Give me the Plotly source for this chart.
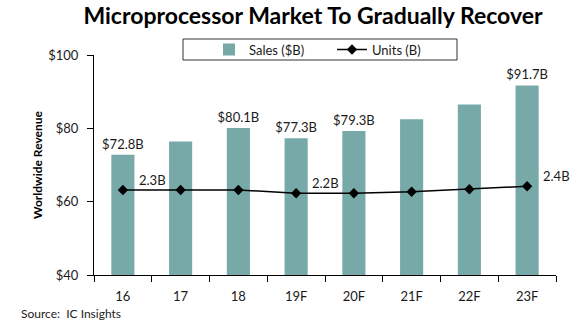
import plotly.graph_objects as go

categories = ["16", "17", "18", "19F", "20F", "21F", "22F", "23F"]
sales = [72.8, 76.4, 80.1, 77.3, 79.3, 82.5, 86.5, 91.7]
sales_labeled = [True, False, True, True, True, False, False, True]
units = [2.30, 2.30, 2.30, 2.21, 2.21, 2.25, 2.32, 2.40]
unit_labels = {0: "2.3B", 3: "2.2B", 7: "2.4B"}
y_ticks = [40, 60, 80, 100]
y_tick_text = ["$40", "$60", "$80", "$100"]

FONT = "Lato"
BAR = "#77a9a9"

L, R, T, B = 94, 19, 55, 48
W, H = 575, 323
PW, PH = W - L - R, H - T - B


def px_x(p):
    return (p - L) / PW


def px_y(p):
    return (H - B - p) / PH


bar_text = [f"${v:.1f}B" if s else "" for v, s in zip(sales, sales_labeled)]

fig = go.Figure()
fig.add_trace(go.Bar(
    x=categories, y=sales, name="Sales ($B)",
    marker=dict(color=BAR, line=dict(width=0)),
    width=0.4,
    text=bar_text, textposition="outside", cliponaxis=False,
    constraintext="none",
    textfont=dict(family=FONT, size=13, color="#1a1a1a"),
))
fig.add_trace(go.Scatter(
    x=categories, y=units, name="Units (B)", yaxis="y2",
    mode="lines+markers",
    line=dict(color="black", width=1.5),
    marker=dict(symbol="diamond", size=8, color="black"),
    cliponaxis=False,
))

annotations = []
for i, txt in unit_labels.items():
    annotations.append(dict(
        x=i, y=units[i], xref="x", yref="y2",
        text=txt, showarrow=False, xanchor="left", yanchor="middle",
        xshift=14, yshift=10,
        font=dict(family=FONT, size=13, color="#1a1a1a"),
    ))
annotations.append(dict(
    x=px_x(37), y=0.5, xref="paper", yref="paper",
    text="<b>Worldwide Revenue</b>", textangle=-90, showarrow=False,
    xanchor="center", yanchor="middle",
    font=dict(family=FONT, size=12, color="black"),
))
annotations.append(dict(
    x=px_x(19), y=px_y(313), xref="paper", yref="paper",
    text="Source:  IC Insights", showarrow=False,
    xanchor="left", yanchor="middle",
    font=dict(family=FONT, size=12, color="#222"),
))

fig.update_layout(
    width=W, height=H,
    margin=dict(l=L, r=R, t=T, b=B, autoexpand=False),
    paper_bgcolor="white", plot_bgcolor="white",
    title=dict(
        text="<b>Microprocessor Market To Gradually Recover</b>",
        x=313 / W, xanchor="center", y=1 - 16 / H, yanchor="middle",
        font=dict(family=FONT, size=23, color="black"),
    ),
    showlegend=True,
    legend=dict(
        orientation="h", x=px_x(209), y=px_y(49.5), xanchor="left", yanchor="middle",
        bgcolor="rgba(0,0,0,0)", borderwidth=0,
        font=dict(family=FONT, size=13, color="#1a1a1a"),
        entrywidth=78,
    ),
    shapes=[dict(
        type="rect", xref="paper", yref="paper",
        x0=px_x(183), x1=px_x(457), y0=px_y(60), y1=px_y(39),
        line=dict(color="#333", width=1), fillcolor="white", layer="below",
    )],
    xaxis=dict(
        type="category", range=[-0.5, len(categories) - 0.5],
        showline=True, linecolor="black", linewidth=1,
        ticks="outside", ticklen=6, tickcolor="black", tickson="boundaries",
        ticklabelstandoff=9,
        showgrid=False, tickangle=0,
        tickfont=dict(family=FONT, size=13, color="#1a1a1a"),
    ),
    yaxis=dict(
        range=[40, 100], tickvals=y_ticks, ticktext=y_tick_text,
        showline=True, linecolor="black", linewidth=1,
        ticks="outside", ticklen=6, tickcolor="black",
        ticklabelstandoff=6,
        showgrid=False, zeroline=False,
        tickfont=dict(family=FONT, size=13, color="#1a1a1a"),
    ),
    yaxis2=dict(
        range=[-0.02, 5.98], overlaying="y", side="right", visible=False,
    ),
    bargap=0.6,
    annotations=annotations,
)

fig.write_html("out.html")
